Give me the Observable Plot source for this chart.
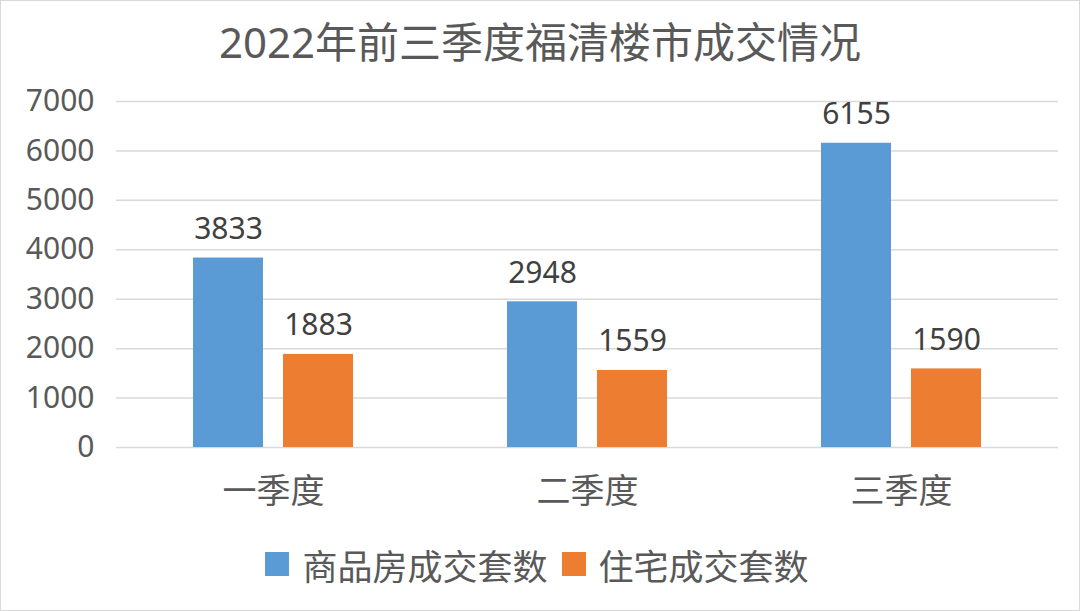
<!DOCTYPE html>
<html>
<head>
<meta charset="utf-8">
<script src="https://cdn.jsdelivr.net/npm/d3@7"></script>
<script src="https://cdn.jsdelivr.net/npm/@observablehq/plot@0.6"></script>
<style>
  html, body { margin: 0; padding: 0; background: #fff; }
  #wrap { position: relative; width: 1080px; height: 611px; overflow: hidden;
          font-family: 'Noto Sans', 'Noto Sans CJK SC', sans-serif; color: #595959; }
  #frame { position: absolute; left: 0; top: 0; right: 0; bottom: 0; border: 1px solid #d9d9d9; box-sizing: border-box; pointer-events: none; }
  #title { height: 80px; line-height: 84px; text-align: center; font-size: 42px; }
  #legend { height: 91px; display: flex; justify-content: center; align-items: center; font-size: 35px; padding-left: 8px; padding-bottom: 3px; box-sizing: border-box; }
  .item { display: flex; align-items: center; margin-right: 14px; }
  .sw { width: 24px; height: 24px; margin-right: 13px; }
</style>
</head>
<body>
<div id="wrap">
  <div id="title">2022年前三季度福清楼市成交情况</div>
  <div id="chart"></div>
  <div id="legend"></div>
  <div id="frame"></div>
</div>
<script>
const quarters = ["一季度", "二季度", "三季度"];
const series = ["商品房成交套数", "住宅成交套数"];
const commercial = [3833, 2948, 6155];
const residential = [1883, 1559, 1590];
const yTicks = [0, 1000, 2000, 3000, 4000, 5000, 6000, 7000];
const colors = ["#5B9BD5", "#ED7D31"];

const rows = [];
quarters.forEach((q, i) => {
  rows.push({quarter: q, series: series[0], value: commercial[i]});
  rows.push({quarter: q, series: series[1], value: residential[i]});
});

const chart = Plot.plot({
  width: 1080,
  height: 440,
  marginLeft: 115,
  marginRight: 22,
  marginTop: 21,
  marginBottom: 73,
  style: {fontFamily: "'Noto Sans', 'Noto Sans CJK SC', sans-serif", color: "#595959", background: "transparent"},
  fx: {domain: quarters, padding: 0, label: null},
  x: {domain: series, paddingInner: 0.222, paddingOuter: 0.855, axis: null},
  y: {domain: [0, 7000], label: null},
  color: {domain: series, range: colors},
  marks: [
    Plot.ruleY(yTicks, {stroke: "#d9d9d9", strokeWidth: 1.5}),
    Plot.barY(rows, {fx: "quarter", x: "series", y: "value", fill: "series"}),
    Plot.text(rows, {fx: "quarter", x: "series", y: "value", text: d => String(d.value),
      dy: -19, lineAnchor: "bottom", fontSize: 30, fill: "#404040"}),
    Plot.axisY(yTicks, {tickSize: 0, tickPadding: 22, fontSize: 30, label: null, tickFormat: d => String(d)}),
    Plot.axisFx({anchor: "bottom", tickSize: 0, tickPadding: 31, fontSize: 34, label: null})
  ]
});
document.getElementById("chart").appendChild(chart);

const legend = document.getElementById("legend");
series.forEach((s, i) => {
  const it = document.createElement("div");
  it.className = "item";
  const sw = document.createElement("span");
  sw.className = "sw";
  sw.style.background = colors[i];
  const t = document.createElement("span");
  t.textContent = s;
  it.appendChild(sw);
  it.appendChild(t);
  legend.appendChild(it);
});
</script>
</body>
</html>
